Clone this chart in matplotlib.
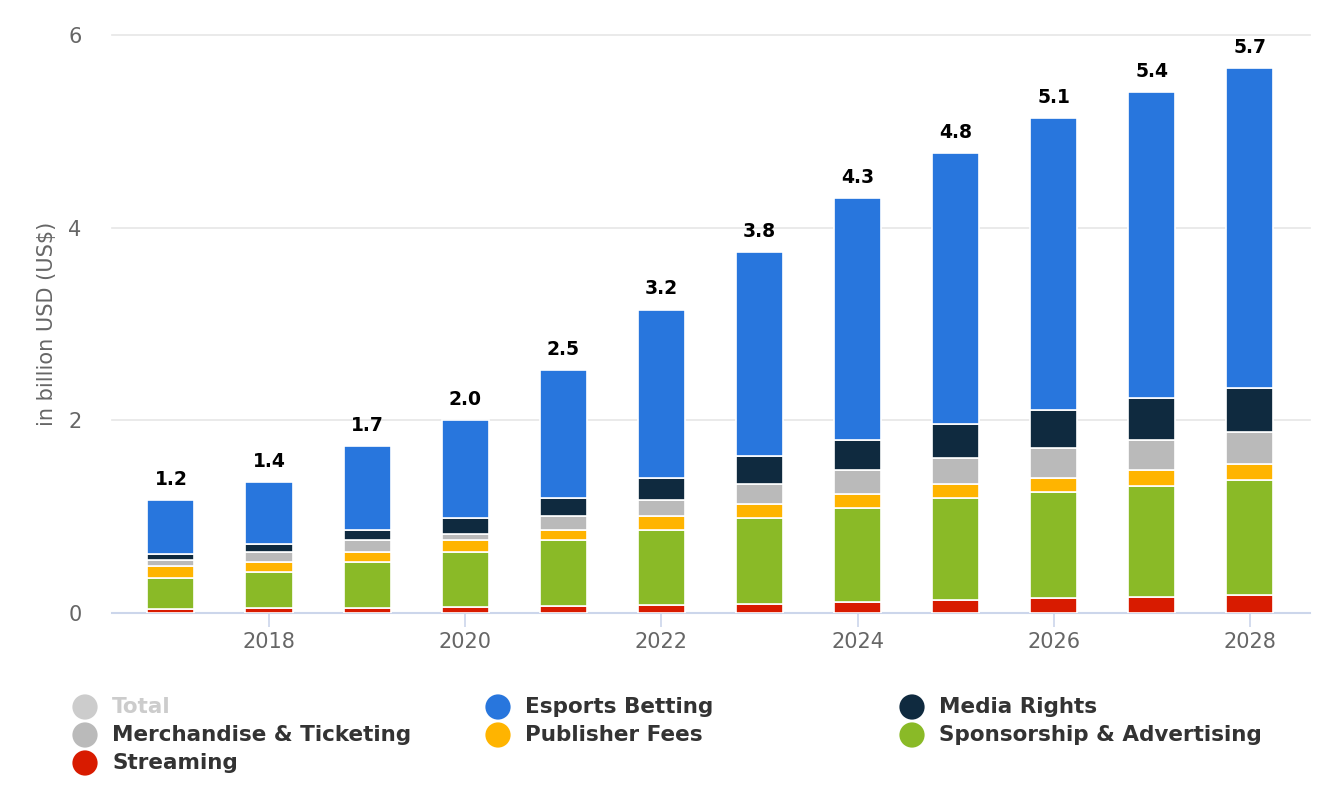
#!/usr/bin/env python3
"""Esports revenue by segment, stacked bars."""

import matplotlib
matplotlib.use('Agg')
import matplotlib.pyplot as plt
import numpy as np

plt.rcParams['font.family'] = ['DejaVu Sans']

years = [2017, 2018, 2019, 2020, 2021, 2022, 2023, 2024, 2025, 2026, 2027, 2028]
totals = [1.2, 1.4, 1.7, 2.0, 2.5, 3.2, 3.8, 4.3, 4.8, 5.1, 5.4, 5.7]

# segment values in billion USD, bottom to top
streaming = [0.045, 0.05, 0.05, 0.06, 0.075, 0.085, 0.095, 0.115, 0.135, 0.155, 0.165, 0.185]
sponsorship = [0.315, 0.375, 0.48, 0.57, 0.685, 0.775, 0.895, 0.975, 1.055, 1.105, 1.155, 1.195]
publisher = [0.13, 0.105, 0.10, 0.13, 0.10, 0.15, 0.14, 0.145, 0.15, 0.14, 0.165, 0.17]
merch = [0.06, 0.10, 0.13, 0.06, 0.15, 0.16, 0.21, 0.25, 0.27, 0.31, 0.315, 0.33]
media = [0.06, 0.09, 0.10, 0.17, 0.18, 0.23, 0.29, 0.315, 0.35, 0.40, 0.43, 0.46]
betting = [0.56, 0.64, 0.87, 1.01, 1.33, 1.75, 2.12, 2.51, 2.81, 3.03, 3.18, 3.32]

series = [
    ('Streaming', streaming, '#d81b00'),
    ('Sponsorship & Advertising', sponsorship, '#8aba27'),
    ('Publisher Fees', publisher, '#ffb400'),
    ('Merchandise & Ticketing', merch, '#bababa'),
    ('Media Rights', media, '#0f2a3f'),
    ('Esports Betting', betting, '#2876dd'),
]

fig = plt.figure(figsize=(13.42, 8.08), dpi=100)
ax = fig.add_axes([0.0835, 0.2413, 0.8925, 0.7154])

bottom = np.zeros(len(years))
for name, vals, color in series:
    ax.bar(years, vals, width=0.48, bottom=bottom, color=color,
           edgecolor='white', linewidth=1.2, zorder=3)
    bottom += np.array(vals)

for x, top, lab in zip(years, bottom, totals):
    ax.annotate(f'{lab:.1f}', (x, top), textcoords='offset points', xytext=(0, 8),
                ha='center', va='bottom', fontsize=13.5, fontweight='bold', color='black')

ax.set_xlim(2016.4, 2028.61)
ax.set_ylim(0, 6)
ax.set_yticks([0, 2, 4, 6])
ax.set_xticks([2018, 2020, 2022, 2024, 2026, 2028])
ax.grid(axis='y', color='#e6e6e6', linewidth=1.2, zorder=0)
for line in ax.get_ygridlines():
    line.set_clip_on(False)
for s in ['top', 'right', 'left']:
    ax.spines[s].set_visible(False)
ax.spines['bottom'].set_color('#ccd6eb')
ax.spines['bottom'].set_linewidth(1.5)
ax.tick_params(axis='y', length=0, labelsize=15, labelcolor='#666666', pad=22)
ax.tick_params(axis='x', length=10, width=1.2, color='#ccd6eb', labelsize=15,
               labelcolor='#666666', pad=4)
ax.set_ylabel('in billion USD (US$)', fontsize=15, color='#666666', labelpad=8)

# legend in pixel coordinates of an overlay axes
leg = fig.add_axes([0, 0, 1, 1], facecolor='none')
leg.set_xlim(0, 1342)
leg.set_ylim(808, 0)
leg.axis('off')
legend_items = [
    ('Total', '#cccccc', '#cccccc', 0, 0),
    ('Esports Betting', '#2876dd', '#333333', 1, 0),
    ('Media Rights', '#0f2a3f', '#333333', 2, 0),
    ('Merchandise & Ticketing', '#bababa', '#333333', 0, 1),
    ('Publisher Fees', '#ffb400', '#333333', 1, 1),
    ('Sponsorship & Advertising', '#8aba27', '#333333', 2, 1),
    ('Streaming', '#d81b00', '#333333', 0, 2),
]
col_x = [85, 498, 912]
row_y = [707, 735, 763]
for name, mcolor, tcolor, c, r in legend_items:
    leg.scatter(col_x[c], row_y[r], s=330, color=mcolor, edgecolor='none')
    leg.text(col_x[c] + 27, row_y[r], name, fontsize=15.5, fontweight='bold',
             color=tcolor, va='center', ha='left')

fig.savefig('out.png', dpi=100)
